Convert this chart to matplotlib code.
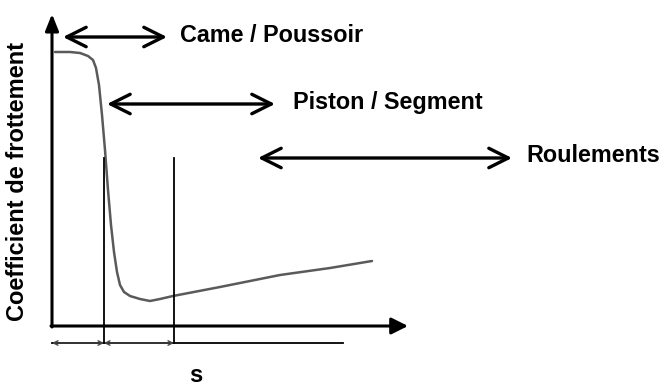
import numpy as np
import matplotlib.pyplot as plt

plt.rcParams['font.family'] = ['Liberation Sans', 'DejaVu Sans']

# friction curve (x, y in drawing units, y grows downward)
CURVE_X = [55, 70, 80, 88, 93, 96, 99, 102, 105, 108, 111, 114, 117, 120, 124, 130, 140, 150, 160, 173, 220, 280, 330, 372]
CURVE_Y = [52, 52, 53, 56, 60, 68, 85, 115, 150, 190, 225, 252, 272, 285, 292, 296, 299, 301, 299, 296, 287, 275, 268, 261]

# regime boundaries on the s axis
BOUNDS_X = [104, 174]
BOUND_TOP = 158

# regime ranges: (label, x_start, x_end, y, text_x)
REGIMES = [
    ("Came / Poussoir", 63, 167, 37, 180),
    ("Piston / Segment", 107, 275, 104, 293),
    ("Roulements", 258, 512, 158, 526),
]

ORIGIN = (52, 326)
X_TIP = 408
Y_TIP = 14
DIM_Y = 343
DIM_END = 343


def main():
    fig = plt.figure(figsize=(6.62, 3.9), dpi=100)
    ax = fig.add_axes([0, 0, 1, 1])
    ax.set_xlim(0, 662)
    ax.set_ylim(390, 0)
    ax.axis('off')

    ox, oy = ORIGIN
    # axes with arrows
    ax.annotate('', xy=(X_TIP, oy), xytext=(ox - 1, oy),
                arrowprops=dict(arrowstyle='-|>, head_length=0.5, head_width=0.25', lw=2.2, color='black',
                                mutation_scale=20, shrinkA=0, shrinkB=0))
    ax.annotate('', xy=(ox, Y_TIP), xytext=(ox, oy + 1),
                arrowprops=dict(arrowstyle='-|>, head_length=0.5, head_width=0.2', lw=2.2, color='black',
                                mutation_scale=20, shrinkA=0, shrinkB=0))

    ax.plot(CURVE_X, CURVE_Y, color='#5a5a5a', lw=1.8, solid_capstyle='round')

    for bx in BOUNDS_X:
        ax.plot([bx, bx], [BOUND_TOP, DIM_Y], color='black', lw=1.3)

    # dimension line below the axis
    ax.plot([ox, DIM_END], [DIM_Y, DIM_Y], color='black', lw=1.3)
    edges = [ox] + BOUNDS_X
    for a, b in zip(edges[:-1], edges[1:]):
        ax.annotate('', xy=(a, DIM_Y), xytext=(b, DIM_Y),
                    arrowprops=dict(arrowstyle='<->', lw=1.0, color='#444444', mutation_scale=8, shrinkA=0, shrinkB=0))

    for label, x0, x1, y, tx in REGIMES:
        ax.annotate('', xy=(x0, y), xytext=(x1, y),
                    arrowprops=dict(arrowstyle='<->, head_length=0.7, head_width=0.35', lw=2.4,
                                    color='black', mutation_scale=20, shrinkA=0, shrinkB=0))
        ax.text(tx, y - 2, label, fontsize=16.8, fontweight='bold', va='center', ha='left')

    ax.text(18, 181, 'Coefficient de frottement', rotation=90, fontsize=17, fontweight='bold',
            va='center', ha='center')
    ax.text(196, 382, 's', fontsize=17, fontweight='bold', va='baseline', ha='center')

    fig.savefig('out.png', dpi=100)


if __name__ == '__main__':
    main()
